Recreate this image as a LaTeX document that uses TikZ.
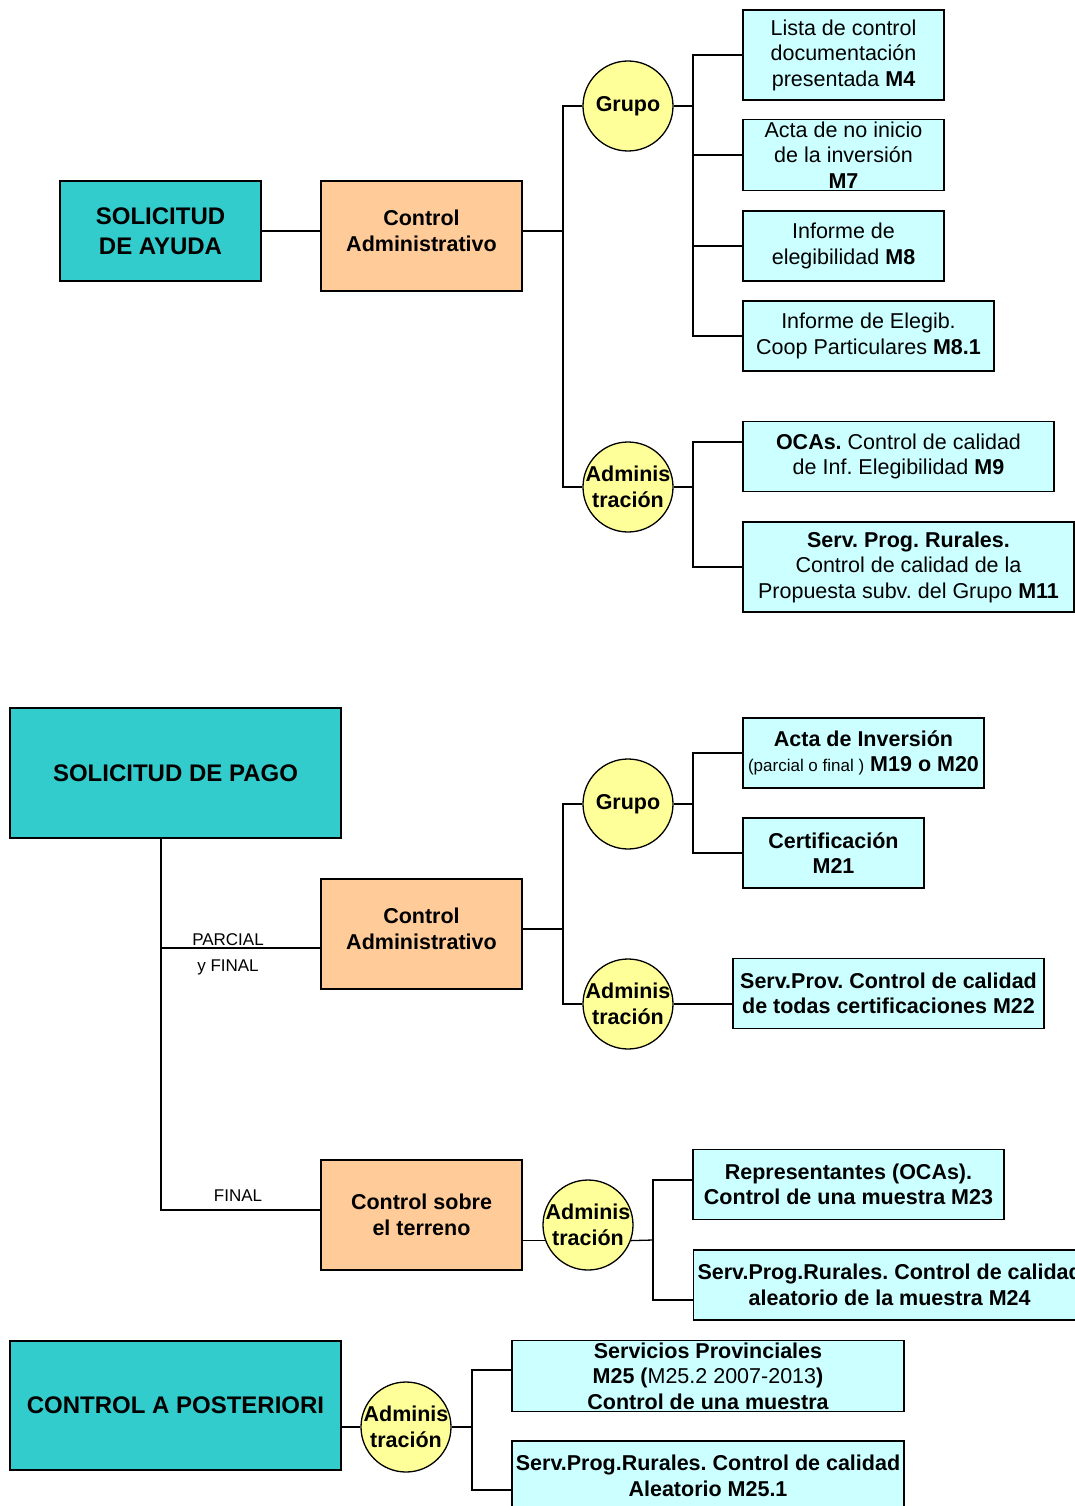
\documentclass[tikz,border=0pt]{standalone}
\usepackage{fontspec}
\setmainfont{Liberation Sans}
\frenchspacing
\definecolor{raiz}{HTML}{33CCCC}
\definecolor{control}{HTML}{FFCC99}
\definecolor{agente}{HTML}{FFFF99}
\definecolor{documento}{HTML}{CCFFFF}
\newcommand{\cuerpo}{\fontsize{21.5}{25.5}\selectfont}
\begin{document}
\begin{tikzpicture}[x=1pt, y=-1pt, every node/.style = {shape=rectangle, draw, align=center, inner sep=2pt, font=\cuerpo}, line width=1.3pt]
	\tikzstyle{raizbox} = [fill=raiz, font=\fontsize{24}{30}\selectfont\bfseries]
	\tikzstyle{ctrlbox} = [fill=control, font=\cuerpo\bfseries, minimum width=201pt, minimum height=110pt]
	\tikzstyle{quien} = [circle, fill=agente, font=\cuerpo\bfseries, minimum size=90pt, inner sep=-10pt]
	\tikzstyle{doc} = [fill=documento, minimum height=70pt]
	\tikzstyle{etiqueta} = [draw=none, font=\fontsize{17}{20}\selectfont]
	\useasboundingbox (0,0) rectangle (1075,1506);
	\clip (0,0) rectangle (1075,1506);
	\path[fill=white] (0,0) rectangle (1075,1506);
	\node[raizbox, minimum width=201pt, minimum height=100pt] (ayuda) at (160.5,231) {SOLICITUD\\DE AYUDA};
	\node[ctrlbox, text depth=11pt] (admin1) at (421.5,236) {Control\\Administrativo};
	\node[quien] (grupo1) at (628,106) {Grupo};
	\node[quien] (adm1) at (628,487) {Adminis\\tración};
	\node[doc, minimum width=201pt, minimum height=90pt] (m4) at (843.5,55) {Lista de control\\documentación\\presentada \textbf{M4}};
	\node[doc, minimum width=201pt] (m7) at (843.5,155) {Acta de no inicio\\de la inversión\\\textbf{M7}};
	\node[doc, minimum width=201pt] (m8) at (843.5,246) {Informe de\\elegibilidad \textbf{M8}};
	\node[doc, minimum width=251pt] (m81) at (868.5,336) {Informe de Elegib.\\Coop Particulares \textbf{M8.1}};
	\node[doc, minimum width=311pt] (m9) at (898.5,456.5) {\textbf{OCAs.} Control de calidad\\de Inf. Elegibilidad \textbf{M9}};
	\node[doc, minimum width=331pt, minimum height=90pt] (m11) at (908.5,567) {\textbf{Serv. Prog. Rurales.}\\Control de calidad de la\\Propuesta subv. del Grupo \textbf{M11}};
	\node[raizbox, minimum width=331pt, minimum height=130pt] (pago) at (175.5,773) {SOLICITUD DE PAGO};
	\node[ctrlbox, text depth=11pt] (admin2) at (421.5,934) {Control\\Administrativo};
	\node[ctrlbox] (terreno) at (421.5,1215) {Control sobre\\el terreno};
	\node[quien] (grupo2) at (628,804) {Grupo};
	\node[quien] (adm2) at (628,1004) {Adminis\\tración};
	\node[doc, minimum width=241pt] (m1920) at (863.5,753) {\textbf{Acta de Inversión}\\{\fontsize{17}{20}\selectfont(parcial o final )} \textbf{M19 o M20}};
	\node[doc, minimum width=181pt, font=\cuerpo\bfseries] (m21) at (833.5,853) {Certificación\\M21};
	\node[doc, minimum width=311pt, font=\cuerpo\bfseries] (m22) at (888.5,993.5) {Serv.Prov. Control de calidad\\de todas certificaciones M22};
	\node[quien] (adm3) at (588,1225) {Adminis\\tración};
	\node[doc, minimum width=311pt, font=\cuerpo\bfseries] (m23) at (848.5,1184.5) {Representantes (OCAs).\\Control de una muestra M23};
	\node[doc, minimum width=392pt, font=\cuerpo\bfseries, anchor=west] (m24) at (693,1285) {Serv.Prog.Rurales. Control de calidad\\aleatorio de la muestra M24};
	\node[raizbox, minimum width=331pt, minimum height=129pt] (posterior) at (175.5,1405.5) {CONTROL A POSTERIORI};
	\node[quien] (adm4) at (406,1427) {Adminis\\tración};
	\node[doc, minimum width=392pt, font=\cuerpo\bfseries] (m25) at (708,1376) {Servicios Provinciales\\M25 (\mdseries M25.2 2007-2013\bfseries)\\Control de una muestra};
	\node[doc, minimum width=392pt, font=\cuerpo\bfseries] (m251) at (708,1476) {Serv.Prog.Rurales. Control de calidad\\Aleatorio M25.1};
	\node[etiqueta] (parcial) at (228,940) {PARCIAL};
	\node[etiqueta] (yfinal) at (228,967) {y FINAL};
	\node[etiqueta] (final) at (238,1196) {FINAL};
	\coordinate (s1) at (563,231);
	\coordinate (g1) at (693,106);
	\coordinate (a1) at (693,487);
	\draw (ayuda.east) -- (ayuda.east -| admin1.west);
	\draw (admin1.east |- s1) -- (s1);
	\draw (grupo1.west) -| (s1) |- (adm1.west);
	\draw (grupo1.east) -- (g1);
	\draw (g1) |- (m4.west);
	\draw (g1) |- (m7.west);
	\draw (g1) |- (m8.west);
	\draw (g1) |- (m81.west);
	\draw (adm1.east) -- (a1);
	\draw (a1) |- ([yshift=14.5pt]m9.west);
	\draw (a1) |- (m11.west);
	\coordinate (p1) at ([xshift=-14.5pt]pago.south);
	\coordinate (c2) at ([yshift=-14pt]admin2.west);
	\coordinate (s2) at (563,929);
	\coordinate (g2) at (693,804);
	\draw (p1) |- ([yshift=5pt]terreno.west);
	\draw (c2) -- (c2 -| p1);
	\draw (admin2.east |- s2) -- (s2);
	\draw (grupo2.west) -| (s2) |- (adm2.west);
	\draw (grupo2.east) -- (g2);
	\draw (g2) |- (m1920.west);
	\draw (g2) |- (m21.west);
	\draw (adm2.east) -- (adm2.east -| m22.west);
	\coordinate (a3) at (653,1240);
	\draw (terreno.east |- adm3.200) -- (adm3.200);
	\draw (adm3.340) -- (a3);
	\draw (a3) |- ([yshift=4.5pt]m23.west);
	\draw (a3) |- ([yshift=-15pt]m24.west);
	\coordinate (a4) at (472,1427);
	\draw (posterior.east |- adm4) -- (adm4.west);
	\draw (adm4.east) -- (a4);
	\draw (a4) |- ([yshift=6pt]m25.west);
	\draw (a4) |- ([yshift=-14pt]m251.west);
\end{tikzpicture}
\end{document}
